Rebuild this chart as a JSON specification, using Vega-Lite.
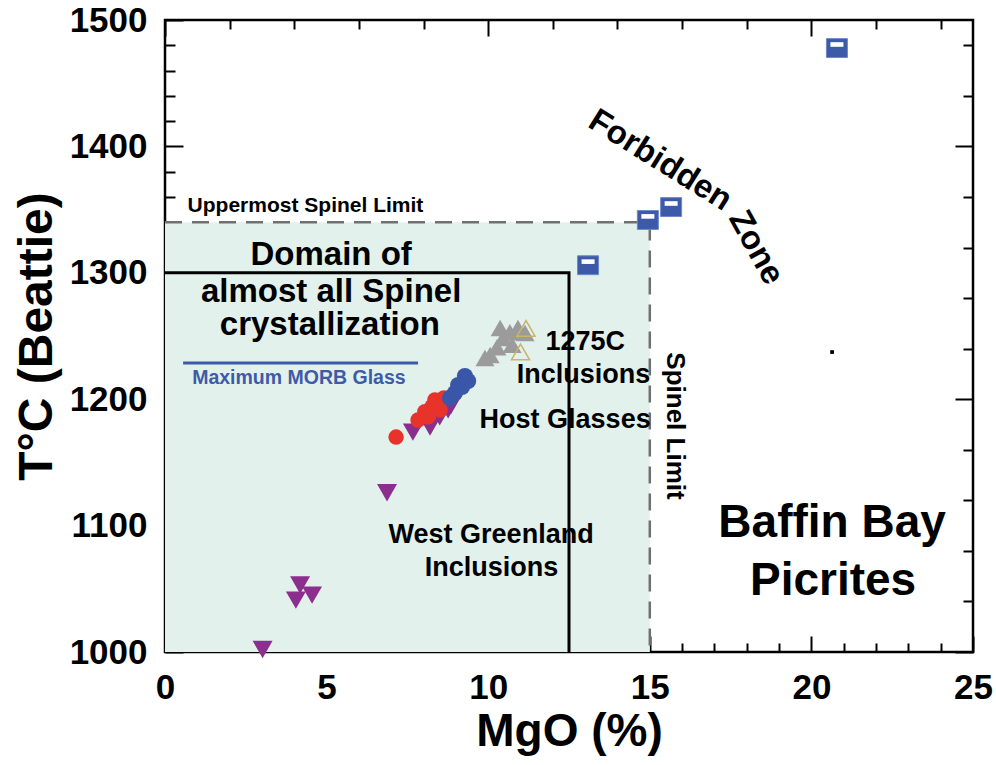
{
  "$schema": "https://vega.github.io/schema/vega-lite/v6.json",
  "width": 808,
  "height": 632,
  "autosize": "none",
  "padding": {"left": 165, "top": 20, "right": 23, "bottom": 113},
  "background": "white",
  "config": {
    "view": {"stroke": "black", "strokeWidth": 2.5},
    "axis": {"labelOverlap": false, "labelFlush": false, "labelBound": false},
    "text": {"font": "Liberation Sans", "fontWeight": "bold", "color": "black"}
  },
  "datasets": {
    "region": [{"x": 0, "x2": 15, "y": 1000, "y2": 1340}],
    "dashed": [{"o": 1, "x": 0, "y": 1340}, {"o": 2, "x": 15, "y": 1340}, {"o": 3, "x": 15, "y": 1000}],
    "solid": [{"o": 1, "x": 0, "y": 1300}, {"o": 2, "x": 12.5, "y": 1300}, {"o": 3, "x": 12.5, "y": 1000}],
    "morb": [{"x": 0.56, "x2": 7.83, "y": 1228.6}],
    "purple": [
      {"x": 3.02, "y": 1002}, {"x": 4.18, "y": 1053}, {"x": 4.05, "y": 1041}, {"x": 4.55, "y": 1045},
      {"x": 6.87, "y": 1126}, {"x": 7.67, "y": 1174}, {"x": 8.2, "y": 1178}, {"x": 8.5, "y": 1186},
      {"x": 8.76, "y": 1191.5}, {"x": 8.85, "y": 1195}
    ],
    "red": [
      {"x": 7.15, "y": 1170}, {"x": 7.83, "y": 1183.5}, {"x": 8.04, "y": 1190}, {"x": 8.14, "y": 1186},
      {"x": 8.26, "y": 1194}, {"x": 8.35, "y": 1199.4}, {"x": 8.45, "y": 1198}, {"x": 8.51, "y": 1191.5},
      {"x": 8.63, "y": 1201}
    ],
    "blue": [
      {"x": 8.82, "y": 1201}, {"x": 8.97, "y": 1204.9}, {"x": 9.07, "y": 1211.2}, {"x": 9.19, "y": 1209.7},
      {"x": 9.28, "y": 1218.4}, {"x": 9.38, "y": 1214.4}
    ],
    "gray": [
      {"x": 9.9, "y": 1232.6}, {"x": 10.06, "y": 1235}, {"x": 10.27, "y": 1241}, {"x": 10.37, "y": 1256.3},
      {"x": 10.46, "y": 1248.4}, {"x": 10.67, "y": 1253}, {"x": 10.74, "y": 1243}, {"x": 10.92, "y": 1256.3},
      {"x": 11.14, "y": 1252.4}
    ],
    "yellow": [{"x": 11.17, "y": 1256}, {"x": 11.0, "y": 1237.4}],
    "squares": [{"x": 13.09, "y": 1306}, {"x": 14.94, "y": 1341.8}, {"x": 15.66, "y": 1352}, {"x": 20.79, "y": 1477.8}],
    "dot": [{"x": 20.64, "y": 1237.3}],
    "bigLabels": [
      {"label": "Domain of", "x": 5.14, "y": 1306},
      {"label": "almost all Spinel", "x": 5.14, "y": 1277},
      {"label": "crystallization", "x": 5.1, "y": 1251}
    ],
    "midLabels": [
      {"label": "1275C", "x": 13.0, "y": 1239},
      {"label": "Inclusions", "x": 12.95, "y": 1213},
      {"label": "Host Glasses", "x": 12.38, "y": 1177},
      {"label": "West Greenland", "x": 10.09, "y": 1086},
      {"label": "Inclusions", "x": 10.1, "y": 1060}
    ],
    "baffin": [
      {"label": "Baffin Bay", "x": 20.64, "y": 1091},
      {"label": "Picrites", "x": 20.67, "y": 1045}
    ],
    "upper": [{"label": "Uppermost Spinel Limit", "x": 0.7, "y": 1348}],
    "morbLabel": [{"label": "Maximum MORB Glass", "x": 0.84, "y": 1212}],
    "spinel": [{"label": "Spinel Limit", "x": 15.78, "y": 1178.8}],
    "forbidden": [{"label": "Forbidden", "x": 15.32, "y": 1389}],
    "zone": [{"label": "Zone", "x": 18.29, "y": 1320}]
  },
  "layer": [
    {
      "data": {"name": "region"},
      "mark": {"type": "rect", "fill": "#e3f1ec", "stroke": null},
      "encoding": {
        "x": {
          "field": "x", "type": "quantitative",
          "scale": {"domain": [0, 25], "nice": false, "zero": false},
          "axis": {
            "orient": "bottom",
            "values": [0,1,2,3,4,5,6,7,8,9,10,11,12,13,14,15,16,17,18,19,20,21,22,23,24,25],
            "labelExpr": "datum.value % 5 === 0 ? datum.label : ''",
            "tickSize": {"condition": {"test": "datum.value % 5 === 0", "value": -16}, "value": -9},
            "tickWidth": 2, "tickColor": "black",
            "domain": false, "grid": false,
            "labelFont": "Liberation Sans", "labelFontWeight": "bold", "labelFontSize": 35,
            "labelColor": "black", "labelPadding": 34, "labelFlush": false, "labelOverlap": false,
            "title": "MgO (%)", "titleFont": "Liberation Sans", "titleFontWeight": "bold",
            "titleFontSize": 46, "titleColor": "black", "titlePadding": -3
          }
        },
        "x2": {"field": "x2"},
        "y": {
          "field": "y", "type": "quantitative",
          "scale": {"domain": [1000, 1500], "nice": false, "zero": false},
          "axis": {
            "orient": "left",
            "values": [1000,1020,1040,1060,1080,1100,1120,1140,1160,1180,1200,1220,1240,1260,1280,1300,1320,1340,1360,1380,1400,1420,1440,1460,1480,1500],
            "labelExpr": "datum.value % 100 === 0 ? datum.label : ''",
            "format": "d",
            "tickSize": {"condition": {"test": "datum.value % 100 === 0", "value": -18}, "value": -10},
            "tickWidth": 2, "tickColor": "black",
            "domain": false, "grid": false,
            "labelFont": "Liberation Sans", "labelFontWeight": "bold", "labelFontSize": 35,
            "labelColor": "black", "labelPadding": 36, "labelFlush": false, "labelOverlap": false,
            "title": "T°C (Beattie)", "titleFont": "Liberation Sans", "titleFontWeight": "bold",
            "titleFontSize": 48, "titleColor": "black", "titlePadding": 8
          }
        },
        "y2": {"field": "y2"}
      }
    },
    {
      "layer": [
        {
          "data": {"name": "dot"},
          "mark": {"type": "point", "shape": "square", "filled": true, "color": "black", "opacity": 1, "size": 14},
          "encoding": {
            "x": {
              "field": "x", "type": "quantitative",
              "scale": {"domain": [0, 25], "nice": false, "zero": false},
              "axis": {
                "orient": "top",
                "values": [0,1,2,3,4,5,6,7,8,9,10,11,12,13,14,15,16,17,18,19,20,21,22,23,24,25],
                "labels": false, "title": null, "domain": false, "grid": false,
                "tickSize": {"condition": {"test": "datum.value % 5 === 0", "value": -16}, "value": -9},
                "tickWidth": 2, "tickColor": "black"
              }
            },
            "y": {
              "field": "y", "type": "quantitative",
              "scale": {"domain": [1000, 1500], "nice": false, "zero": false},
              "axis": {
                "orient": "right",
                "values": [1000,1020,1040,1060,1080,1100,1120,1140,1160,1180,1200,1220,1240,1260,1280,1300,1320,1340,1360,1380,1400,1420,1440,1460,1480,1500],
                "labels": false, "title": null, "domain": false, "grid": false,
                "tickSize": {"condition": {"test": "datum.value % 100 === 0", "value": -18}, "value": -10},
                "tickWidth": 2, "tickColor": "black"
              }
            }
          }
        },
        {
          "data": {"name": "dashed"},
          "mark": {"type": "line", "color": "#707070", "strokeWidth": 2.5, "strokeDash": [17, 10]},
          "encoding": {
            "x": {"field": "x", "type": "quantitative"},
            "y": {"field": "y", "type": "quantitative"},
            "order": {"field": "o"}
          }
        },
        {
          "data": {"name": "solid"},
          "mark": {"type": "line", "color": "black", "strokeWidth": 3},
          "encoding": {
            "x": {"field": "x", "type": "quantitative"},
            "y": {"field": "y", "type": "quantitative"},
            "order": {"field": "o"}
          }
        },
        {
          "data": {"name": "morb"},
          "mark": {"type": "rule", "color": "#3b5bab", "strokeWidth": 3},
          "encoding": {
            "x": {"field": "x", "type": "quantitative"},
            "x2": {"field": "x2"},
            "y": {"field": "y", "type": "quantitative"}
          }
        },
        {
          "data": {"name": "bigLabels"},
          "mark": {"type": "text", "fontSize": 33, "align": "center", "baseline": "alphabetic"},
          "encoding": {
            "x": {"field": "x", "type": "quantitative"},
            "y": {"field": "y", "type": "quantitative"},
            "text": {"field": "label"}
          }
        },
        {
          "data": {"name": "upper"},
          "mark": {"type": "text", "fontSize": 21, "align": "left", "baseline": "alphabetic"},
          "encoding": {
            "x": {"field": "x", "type": "quantitative"},
            "y": {"field": "y", "type": "quantitative"},
            "text": {"field": "label"}
          }
        },
        {
          "data": {"name": "morbLabel"},
          "mark": {"type": "text", "fontSize": 19.5, "align": "left", "baseline": "alphabetic", "color": "#3e5ba8"},
          "encoding": {
            "x": {"field": "x", "type": "quantitative"},
            "y": {"field": "y", "type": "quantitative"},
            "text": {"field": "label"}
          }
        },
        {
          "data": {"name": "purple"},
          "mark": {"type": "point", "shape": "triangle-down", "filled": true, "color": "#8c2e8d", "opacity": 1, "size": 400},
          "encoding": {
            "x": {"field": "x", "type": "quantitative"},
            "y": {"field": "y", "type": "quantitative"}
          }
        },
        {
          "data": {"name": "red"},
          "mark": {"type": "point", "shape": "circle", "filled": true, "color": "#e8332b", "opacity": 1, "size": 240},
          "encoding": {
            "x": {"field": "x", "type": "quantitative"},
            "y": {"field": "y", "type": "quantitative"}
          }
        },
        {
          "data": {"name": "blue"},
          "mark": {"type": "point", "shape": "circle", "filled": true, "color": "#3a56a8", "opacity": 1, "size": 260},
          "encoding": {
            "x": {"field": "x", "type": "quantitative"},
            "y": {"field": "y", "type": "quantitative"}
          }
        },
        {
          "data": {"name": "gray"},
          "mark": {"type": "point", "shape": "triangle-up", "filled": true, "color": "#9b9b9b", "opacity": 1, "size": 360},
          "encoding": {
            "x": {"field": "x", "type": "quantitative"},
            "y": {"field": "y", "type": "quantitative"}
          }
        },
        {
          "data": {"name": "yellow"},
          "mark": {"type": "point", "shape": "triangle-up", "filled": false, "color": "#c9b46a", "strokeWidth": 1.5, "opacity": 1, "size": 330},
          "encoding": {
            "x": {"field": "x", "type": "quantitative"},
            "y": {"field": "y", "type": "quantitative"}
          }
        },
        {
          "data": {"name": "squares"},
          "mark": {"type": "point", "shape": "M-1,-0.9H1V0.9H-1Z", "filled": true, "color": "#3c5aa8", "stroke": "#6f88c8", "strokeWidth": 1, "opacity": 1, "size": 441},
          "encoding": {
            "x": {"field": "x", "type": "quantitative"},
            "y": {"field": "y", "type": "quantitative"}
          }
        },
        {
          "data": {"name": "squares"},
          "mark": {"type": "point", "shape": "M-0.62,-0.56H0.62V-0.12H-0.62Z", "filled": true, "color": "white", "opacity": 1, "size": 441},
          "encoding": {
            "x": {"field": "x", "type": "quantitative"},
            "y": {"field": "y", "type": "quantitative"}
          }
        },
        {
          "data": {"name": "midLabels"},
          "mark": {"type": "text", "fontSize": 27, "align": "center", "baseline": "alphabetic"},
          "encoding": {
            "x": {"field": "x", "type": "quantitative"},
            "y": {"field": "y", "type": "quantitative"},
            "text": {"field": "label"}
          }
        },
        {
          "data": {"name": "baffin"},
          "mark": {"type": "text", "fontSize": 46, "align": "center", "baseline": "alphabetic"},
          "encoding": {
            "x": {"field": "x", "type": "quantitative"},
            "y": {"field": "y", "type": "quantitative"},
            "text": {"field": "label"}
          }
        },
        {
          "data": {"name": "spinel"},
          "mark": {"type": "text", "fontSize": 26, "align": "center", "baseline": "middle", "angle": 90},
          "encoding": {
            "x": {"field": "x", "type": "quantitative"},
            "y": {"field": "y", "type": "quantitative"},
            "text": {"field": "label"}
          }
        },
        {
          "data": {"name": "forbidden"},
          "mark": {"type": "text", "fontSize": 33, "align": "center", "baseline": "middle", "angle": 32},
          "encoding": {
            "x": {"field": "x", "type": "quantitative"},
            "y": {"field": "y", "type": "quantitative"},
            "text": {"field": "label"}
          }
        },
        {
          "data": {"name": "zone"},
          "mark": {"type": "text", "fontSize": 33, "align": "center", "baseline": "middle", "angle": 61},
          "encoding": {
            "x": {"field": "x", "type": "quantitative"},
            "y": {"field": "y", "type": "quantitative"},
            "text": {"field": "label"}
          }
        }
      ]
    }
  ],
  "resolve": {"axis": {"x": "independent", "y": "independent"}}
}
